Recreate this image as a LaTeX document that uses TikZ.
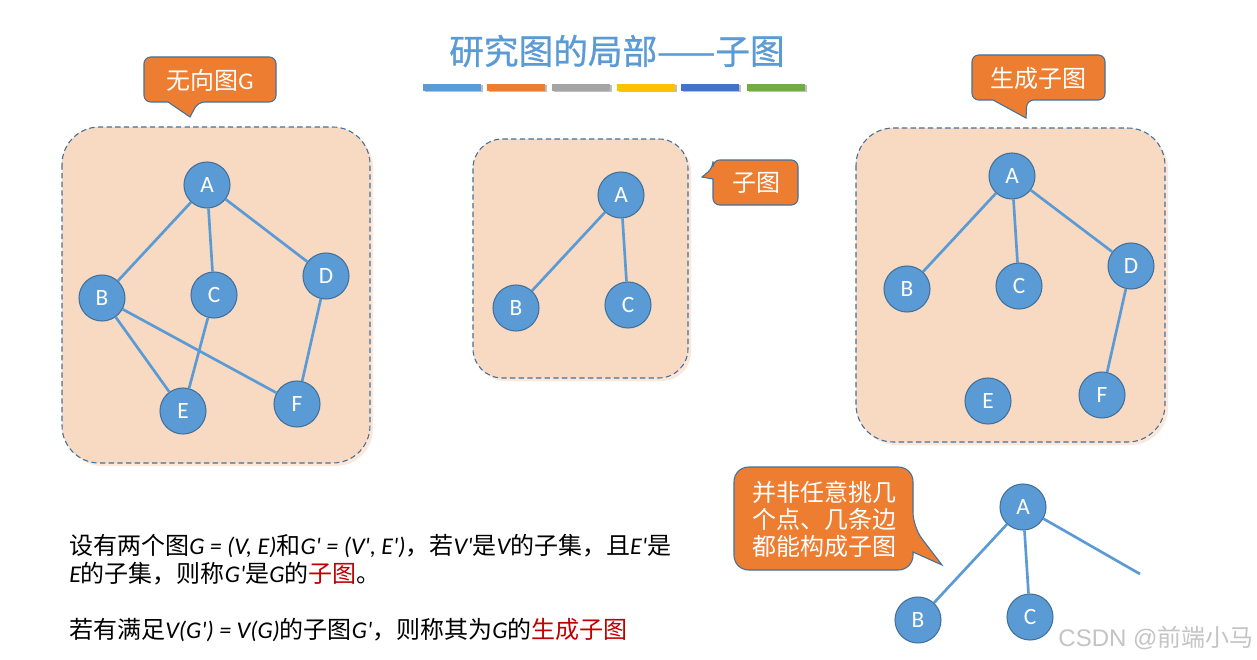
\documentclass[tikz,border=0pt]{standalone}
\usepackage{fontspec}
\setmainfont{Noto Sans CJK SC}
\newfontfamily\lat{Carlito}
\newfontfamily\titlefont{Noto Sans CJK SC}[FakeBold=0.8]
\newfontfamily\wmlat{Liberation Sans}
\definecolor{nodeblue}{HTML}{5B9BD5}
\definecolor{nodeedge}{HTML}{41719C}
\definecolor{peach}{HTML}{F8D9C2}
\definecolor{peachsh}{HTML}{FBE8DA}
\definecolor{callorange}{HTML}{ED7D31}
\definecolor{darkred}{HTML}{C00000}
\definecolor{barA}{HTML}{5B9BD5}
\definecolor{barB}{HTML}{ED7D31}
\definecolor{barC}{HTML}{A5A5A5}
\definecolor{barD}{HTML}{FFC000}
\definecolor{barE}{HTML}{4472C4}
\definecolor{barF}{HTML}{70AD47}
\definecolor{wm}{HTML}{C4C4C4}
\newcommand\mi[1]{{\lat\itshape #1}}
\begin{document}
\begin{tikzpicture}[x=0.75pt,y=-0.75pt,
  vtx/.style={circle, draw=nodeedge, line width=0.8pt, fill=nodeblue, minimum size=34.5pt, inner sep=0pt, text=white, font=\lat\fontsize{17.5}{17.5}\selectfont},
  edge/.style={draw=nodeblue, line width=2pt},
  panel/.style={draw=nodeedge, dash pattern=on 4pt off 2.5pt, line width=0.8pt, fill=peach},
  panelshadow/.style={fill=peachsh},
  callout/.style={fill=callorange, draw=nodeedge, line width=0.8pt},
  calltext/.style={text=white, font=\fontsize{18}{21}\selectfont, inner sep=0pt},
  para/.style={anchor=base west, inner sep=0pt, font=\fontsize{18}{21}\selectfont}
]
\useasboundingbox (0,0) rectangle (1257,660);
\fill[white] (0,0) rectangle (1257,660);

% title
\node[text=nodeblue, font=\titlefont\fontsize{26}{28}\selectfont, inner sep=0pt] (title) at (617,51) {研究图的局部——子图};
\foreach \xa/\c in {423/barA,487/barB,552/barC,617/barD,681/barE,747/barF}{
  \fill[black!25] (\xa+1.5,85.5) rectangle (\xa+59.5,92.5);
  \fill[\c] (\xa,84) rectangle (\xa+58,91);
}

% panels
\fill[panelshadow, rounded corners=28pt] (65,130) rectangle (373,466);
\draw[panel, rounded corners=28pt] (62,127) rectangle (370,463);
\fill[panelshadow, rounded corners=22pt] (476,142) rectangle (691,381);
\draw[panel, rounded corners=22pt] (473,139) rectangle (688,378);
\fill[panelshadow, rounded corners=28pt] (859,131) rectangle (1168,445);
\draw[panel, rounded corners=28pt] (856,128) rectangle (1165,442);

% graph G
\node[vtx] (gA) at (207,185) {A};
\node[vtx] (gB) at (102,298) {B};
\node[vtx] (gC) at (214,295) {C};
\node[vtx] (gD) at (326,276) {D};
\node[vtx] (gE) at (183,411) {E};
\node[vtx] (gF) at (297,404) {F};
\draw[edge] (gA) -- (gB);
\draw[edge] (gA) -- (gC);
\draw[edge] (gA) -- (gD);
\draw[edge] (gB) -- (gE);
\draw[edge] (gB) -- (gF);
\draw[edge] (gC) -- (gE);
\draw[edge] (gD) -- (gF);

% subgraph
\node[vtx] (sA) at (621,195) {A};
\node[vtx] (sB) at (516,308) {B};
\node[vtx] (sC) at (628,305) {C};
\draw[edge] (sA) -- (sB);
\draw[edge] (sA) -- (sC);

% spanning subgraph
\node[vtx] (pA) at (1012,176) {A};
\node[vtx] (pB) at (907,289) {B};
\node[vtx] (pC) at (1019,286) {C};
\node[vtx] (pD) at (1131,266) {D};
\node[vtx] (pE) at (988,401) {E};
\node[vtx] (pF) at (1102,395) {F};
\draw[edge] (pA) -- (pB);
\draw[edge] (pA) -- (pC);
\draw[edge] (pA) -- (pD);
\draw[edge] (pD) -- (pF);

% counter example
\node[vtx] (xA) at (1023,507) {A};
\node[vtx] (xB) at (918,620) {B};
\node[vtx] (xC) at (1030,617) {C};
\coordinate (xEnd) at (1140,574);
\draw[edge] (xA) -- (xB);
\draw[edge] (xA) -- (xC);
\draw[edge] (xA) -- (xEnd);

% callouts
\draw[callout] (190,117) -- (168,102) [rounded corners=5pt] -- (144,102) -- (144,57) -- (276,57) -- (276,102) -- (198,102) [sharp corners] -- cycle;
\node[calltext] (c1) at (210,80) {无向图{\lat G}};

\draw[callout] (702,177) -- (713,179) [rounded corners=5pt] -- (713,205) -- (798,205) -- (798,160) -- (713,160) -- (713,168) [sharp corners] -- cycle;
\node[calltext] (c2) at (756,183) {子图};

\draw[callout] (1026,118) -- (993,100) [rounded corners=5pt] -- (972,100) -- (972,55) -- (1105,55) -- (1105,100) -- (1027,100) [sharp corners] -- cycle;
\node[calltext] (c3) at (1038,78) {生成子图};

\draw[callout] (942,565) -- (913,552) [rounded corners=11pt] -- (913,570) -- (734,570) -- (734,467) -- (913,467) -- (913,527) [sharp corners] -- cycle;
\node[calltext, align=left, font=\fontsize{18}{20.25}\selectfont] (c4) at (824,519) {并非任意挑几\\个点、几条边\\都能构成子图};

% text
\node[para] (t1) at (69,554) {设有两个图\mi{G = (V, E)}和\mi{G' = (V', E')}，若\mi{V'}是\mi{V}的子集，且\mi{E'}是};
\node[para] (t2) at (69,582) {\mi{E}的子集，则称\mi{G'}是\mi{G}的\textcolor{darkred}{子图}。};
\node[para] (t3) at (69,638) {若有满足\mi{V(G') = V(G)}的子图\mi{G'}，则称其为\mi{G}的\textcolor{darkred}{生成子图}};

\node[text=wm, font=\fontsize{18}{20}\selectfont, inner sep=0pt] (wmk) at (1156,638) {{\wmlat CSDN @}前端小马};
\end{tikzpicture}
\end{document}
